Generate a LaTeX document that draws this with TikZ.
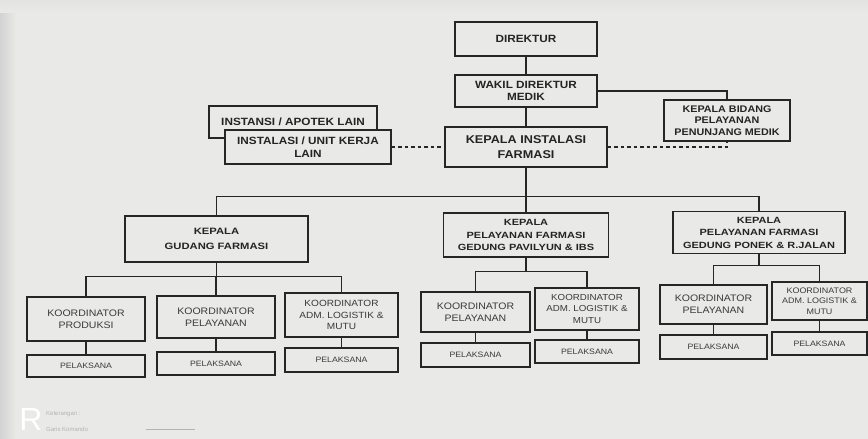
\documentclass[tikz,border=0pt]{standalone}
\usepackage{fontspec}
\setmainfont{Liberation Sans}
\newfontfamily\wfont[FakeStretch=1.12]{Liberation Sans}
\newfontfamily\vfont[FakeStretch=1.22]{Liberation Sans}
\definecolor{bgc}{HTML}{E9E9E7}
\definecolor{linec}{HTML}{262626}
\definecolor{textc}{HTML}{242424}
\definecolor{textl}{HTML}{3A3A3A}
\definecolor{faint}{HTML}{B4B4B4}
\tikzset{
  box/.style={draw=linec, line width=1.1pt, fill=bgc, inner sep=1pt, align=center, text=textc},
  topbox/.style={box, font=\wfont\bfseries\fontsize{10.5}{12.5}\selectfont},
  kepbox/.style={box, font=\vfont\bfseries\fontsize{9}{12.5}\selectfont},
  kordbox/.style={box, text=textl, font=\wfont\fontsize{9.4}{11.8}\selectfont},
  pelbox/.style={box, text=textl, font=\wfont\fontsize{7.8}{9}\selectfont},
  conn/.style={draw=linec, line width=1.1pt},
  dashconn/.style={draw=linec, line width=1.1pt, dash pattern=on 3.5pt off 3pt}
}
\begin{document}
\begin{tikzpicture}[x=1pt, y=-1pt]
\useasboundingbox (0,0) rectangle (868,439);
\fill[bgc] (0,0) rectangle (868,439);
\fill[left color=gray!35, right color=bgc] (0,0) rectangle (16,439);
\fill[top color=gray!22, bottom color=bgc] (0,0) rectangle (868,12);

% top level
\node[topbox, minimum width=142pt, minimum height=34pt] (dir) at (526,39) {DIREKTUR};
\node[topbox, minimum width=142pt, minimum height=32pt] (wakil) at (526,91) {WAKIL DIREKTUR\\MEDIK};
\node[topbox, minimum width=168pt, minimum height=32pt] (instansi) at (293,122) {INSTANSI / APOTEK LAIN};
\node[topbox, minimum width=166pt, minimum height=34pt] (instalasi) at (308,147) {INSTALASI / UNIT KERJA\\LAIN};
\node[topbox, font=\wfont\bfseries\fontsize{11.3}{15}\selectfont, minimum width=162pt, minimum height=40pt] (ki) at (526,147) {KEPALA INSTALASI\\FARMASI};
\node[topbox, font=\wfont\bfseries\fontsize{9.6}{11.6}\selectfont, minimum width=126pt, minimum height=41pt] (kb) at (727,120.5) {KEPALA BIDANG\\PELAYANAN\\PENUNJANG MEDIK};

% kepala level
\node[kepbox, font=\vfont\bfseries\fontsize{9.2}{15}\selectfont, minimum width=183pt, minimum height=46pt] (gud) at (216.5,239) {KEPALA\\GUDANG FARMASI};
\node[kepbox, minimum width=165pt, minimum height=44pt] (pav) at (526,235) {KEPALA\\PELAYANAN FARMASI\\GEDUNG PAVILYUN \& IBS};
\node[kepbox, minimum width=172pt, minimum height=42pt] (pon) at (759,232.5) {KEPALA\\PELAYANAN FARMASI\\GEDUNG PONEK \& R.JALAN};

% koordinator level
\node[kordbox, minimum width=118pt, minimum height=44pt] (k1) at (86,319) {KOORDINATOR\\PRODUKSI};
\node[kordbox, minimum width=118pt, minimum height=42pt] (k2) at (216,317) {KOORDINATOR\\PELAYANAN};
\node[kordbox, font=\wfont\fontsize{9}{11.3}\selectfont, minimum width=113pt, minimum height=44pt] (k3) at (341.5,315) {KOORDINATOR\\ADM. LOGISTIK \&\\MUTU};
\node[kordbox, minimum width=109pt, minimum height=40pt] (k4) at (475.5,312) {KOORDINATOR\\PELAYANAN};
\node[kordbox, font=\wfont\fontsize{8.7}{11.3}\selectfont, minimum width=104pt, minimum height=42pt] (k5) at (587,309) {KOORDINATOR\\ADM. LOGISTIK \&\\MUTU};
\node[kordbox, minimum width=107pt, minimum height=39pt] (k6) at (713.5,304.5) {KOORDINATOR\\PELAYANAN};
\node[kordbox, font=\wfont\fontsize{8}{10.5}\selectfont, minimum width=95pt, minimum height=38pt] (k7) at (819.5,301) {KOORDINATOR\\ADM. LOGISTIK \&\\MUTU};

% pelaksana level
\node[pelbox, minimum width=118pt, minimum height=22pt] (p1) at (86,366) {PELAKSANA};
\node[pelbox, minimum width=118pt, minimum height=23pt] (p2) at (216,363.5) {PELAKSANA};
\node[pelbox, minimum width=113pt, minimum height=24pt] (p3) at (341.5,360) {PELAKSANA};
\node[pelbox, minimum width=109pt, minimum height=24pt] (p4) at (475.5,355) {PELAKSANA};
\node[pelbox, minimum width=104pt, minimum height=23pt] (p5) at (587,351.5) {PELAKSANA};
\node[pelbox, minimum width=107pt, minimum height=24pt] (p6) at (713.5,347) {PELAKSANA};
\node[pelbox, minimum width=95pt, minimum height=23pt] (p7) at (819.5,343.5) {PELAKSANA};

% connectors top
\draw[conn] (dir.south) -- (wakil.north);
\draw[conn] (wakil.south) -- (ki.north);
\draw[conn] (wakil.east) -| (kb.north);
\draw[dashconn] (instalasi.east) -- (ki.west);
\draw[dashconn] (ki.east) -| (kb.south);

% main bus
\draw[conn] (ki.south) -- (pav.north);
\draw[conn] (gud.north) -- ++(0,-19) coordinate (busl) -| (pon.north);

% gudang group
\draw[conn] (gud.south) -- ++(0,14) coordinate (gb);
\draw[conn] (k1.north) |- (gb) -| (k3.north);
\draw[conn] (k2.north) -- (k2.north |- gb);
% pavilyun group
\draw[conn] (pav.south) -- ++(0,14) coordinate (pb);
\draw[conn] (k4.north) |- (pb) -| (k5.north);
% ponek group
\draw[conn] (pon.south) -- ++(0,11.5) coordinate (qb);
\draw[conn] (k6.north) |- (qb) -| (k7.north);

% pelaksana links
\draw[conn] (k1.south) -- (p1.north);
\draw[conn] (k2.south) -- (p2.north);
\draw[conn] (k3.south) -- (p3.north);
\draw[conn] (k4.south) -- (p4.north);
\draw[conn] (k5.south) -- (p5.north);
\draw[conn] (k6.south) -- (p6.north);
\draw[conn] (k7.south) -- (p7.north);

% faint footer
\node[text=white, font=\fontsize{32}{32}\selectfont, inner sep=0pt] (rlogo) at (31,419) {R};
\node[text=faint, font=\fontsize{6}{7}\selectfont, anchor=west, inner sep=0pt] (ket) at (46,414) {Keterangan :};
\node[text=faint, font=\fontsize{6}{7}\selectfont, anchor=west, inner sep=0pt] (gk) at (46,429) {Garis Komando};
\coordinate (gl1) at (146,429);
\coordinate (gl2) at (195,429);
\draw[faint, line width=0.6pt] (gl1) -- (gl2);
\end{tikzpicture}
\end{document}
